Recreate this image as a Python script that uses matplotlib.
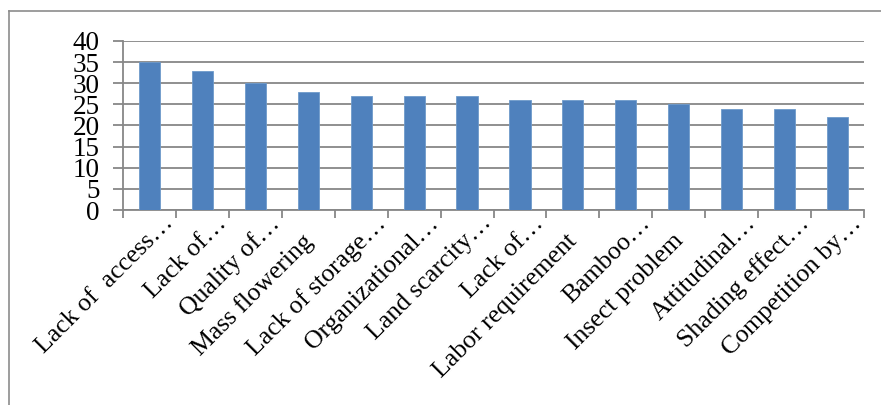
import matplotlib
matplotlib.use("Agg")
import matplotlib.pyplot as plt
import matplotlib.transforms as mtransforms
from matplotlib.lines import Line2D

categories = [
    "Lack of  access\u2026", "Lack of\u2026", "Quality of\u2026", "Mass flowering",
    "Lack of storage\u2026", "Organizational\u2026", "Land scarcity\u2026", "Lack of\u2026",
    "Labor requirement", "Bamboo\u2026", "Insect problem", "Attitudinal\u2026",
    "Shading effect\u2026", "Competition by\u2026",
]
values = [35, 33, 30, 28, 27, 27, 27, 26, 26, 26, 25, 24, 24, 22]
y_ticks = [0, 5, 10, 15, 20, 25, 30, 35, 40]

W, H = 881, 405
fig = plt.figure(figsize=(W / 100, H / 100), dpi=100)
plt.rcParams["font.family"] = ["Liberation Serif", "DejaVu Serif"]

# plot area in pixel coordinates
x0, x1 = 123, 864
ytop, ybot = 41, 210
ax = fig.add_axes([x0 / W, 1 - ybot / H, (x1 - x0) / W, (ybot - ytop) / H])

bar_color = "#4F81BD"
grid_color = "#878787"
n = len(categories)
pos = list(range(n))
ax.bar(pos, values, width=0.4, color=bar_color, edgecolor="#6E9ACB", linewidth=0.6, zorder=3)

ax.set_xlim(-0.5, n - 0.5)
ax.set_ylim(0, 40)
ax.set_yticks(y_ticks)
ax.set_yticklabels([str(v) for v in y_ticks], fontsize=19.5)
ax.yaxis.grid(True, color=grid_color, linewidth=1.3, zorder=0)
ax.set_axisbelow(True)

for s in ["top", "right"]:
    ax.spines[s].set_visible(False)
for s in ["left", "bottom"]:
    ax.spines[s].set_color(grid_color)
    ax.spines[s].set_linewidth(1.3)

ax.tick_params(axis="y", direction="out", length=7, width=1.3, color=grid_color, pad=10)

# category boundary ticks on the bottom axis
ax.set_xticks([i - 0.5 for i in range(n + 1)], minor=False)
ax.set_xticklabels([])
ax.tick_params(axis="x", which="major", direction="out", length=6, width=1.3, color=grid_color)
ax.set_xticks(pos, minor=True)
ax.set_xticklabels(categories, minor=True, rotation=45, ha="right", va="top",
                   rotation_mode="anchor", fontsize=18.5)
ax.tick_params(axis="x", which="minor", length=0, pad=0)
# truncated labels sit further along the diagonal than the full ones
off_trunc = mtransforms.ScaledTranslation(13 / 100, -2 / 100, fig.dpi_scale_trans)
off_full = mtransforms.ScaledTranslation(-7 / 100, -20 / 100, fig.dpi_scale_trans)
for lbl in ax.get_xticklabels(minor=True):
    off = off_trunc if lbl.get_text().endswith("\u2026") else off_full
    lbl.set_transform(lbl.get_transform() + off)

# outer chart frame (left and top edges)
fig.add_artist(Line2D([9 / W, 9 / W], [0, 1 - 11 / H], transform=fig.transFigure,
                      color="#8C8C8C", linewidth=1.2))
fig.add_artist(Line2D([9 / W, 1], [1 - 11 / H, 1 - 11 / H], transform=fig.transFigure,
                      color="#8C8C8C", linewidth=1.2))

fig.savefig("out.png", dpi=100)
